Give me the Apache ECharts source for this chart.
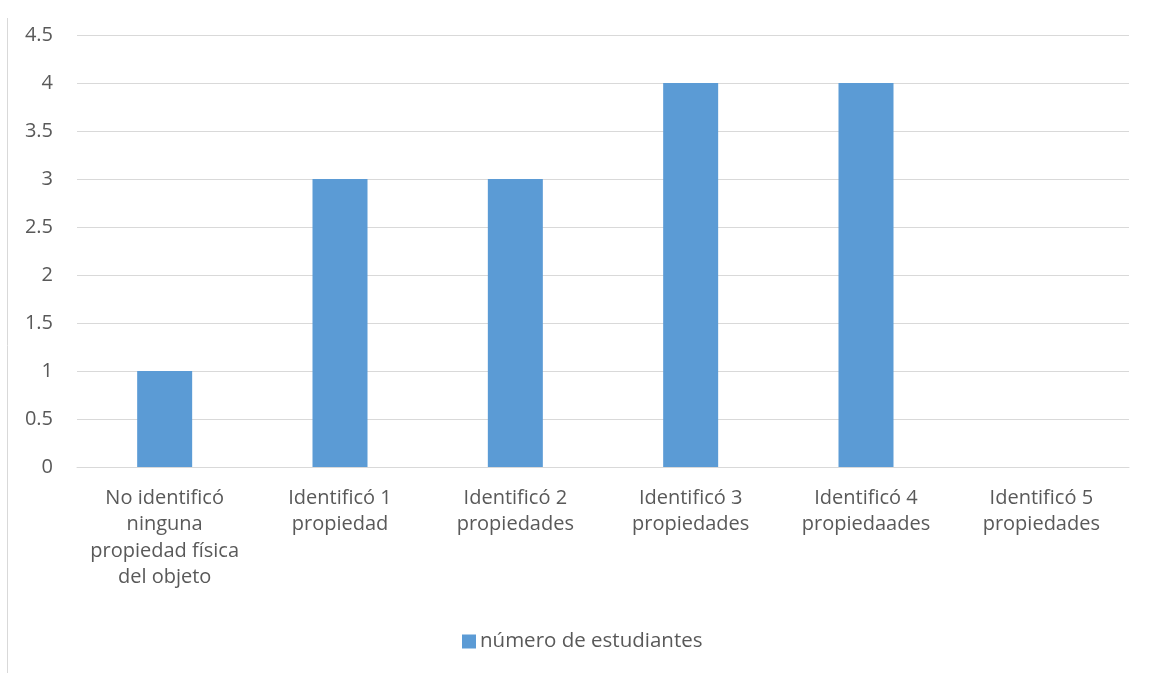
<!DOCTYPE html>
<html>
<head>
<meta charset="utf-8">
<script src="https://cdn.jsdelivr.net/npm/echarts@6/dist/echarts.min.js"></script>
<style>html,body{margin:0;padding:0;background:#fff;}#c{width:1151px;height:673px;}</style>
</head>
<body>
<div id="c"></div>
<script>
const categories = [
  'No identificó\nninguna\npropiedad física\ndel objeto',
  'Identificó 1\npropiedad',
  'Identificó 2\npropiedades',
  'Identificó 3\npropiedades',
  'Identificó 4\npropiedaades',
  'Identificó 5\npropiedades'
];
const seriesName = 'número de estudiantes';
const values = [1, 3, 3, 4, 4, 0];

const chart = echarts.init(document.getElementById('c'));
const font = '"Open Sans", sans-serif';
chart.setOption({
  animation: false,
  textStyle: { fontFamily: font },
  graphic: [{
    type: 'line', shape: { x1: 7.5, y1: 18, x2: 7.5, y2: 673 },
    style: { stroke: '#d9d9d9', lineWidth: 1 }
  }],
  grid: { left: 77, right: 22, top: 35, bottom: 206 },
  legend: {
    top: 626, left: 457,
    itemWidth: 14, itemHeight: 14, itemGap: 6,
    icon: 'rect',
    textStyle: { color: '#595959', fontSize: 20.5, fontFamily: font, padding: [0, 0, 0, -1] },
    data: [seriesName]
  },
  xAxis: {
    type: 'category', data: categories,
    axisLine: { lineStyle: { color: '#d9d9d9', width: 1 } },
    axisTick: { show: false },
    axisLabel: { color: '#595959', fontSize: 20, lineHeight: 26.5, margin: 18, interval: 0, fontFamily: font }
  },
  yAxis: {
    type: 'value', min: 0, max: 4.5, interval: 0.5,
    axisLine: { show: false }, axisTick: { show: false },
    splitLine: { lineStyle: { color: '#d9d9d9', width: 1 } },
    axisLabel: { color: '#595959', fontSize: 20, margin: 24, fontFamily: font }
  },
  series: [{
    name: seriesName, type: 'bar', data: values,
    barWidth: 55,
    itemStyle: { color: '#5b9bd5' }
  }]
});
</script>
</body>
</html>
